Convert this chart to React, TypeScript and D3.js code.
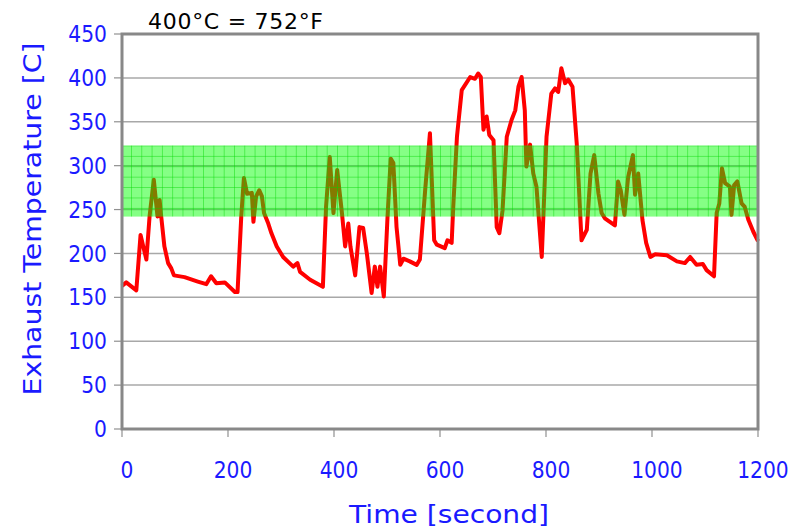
import * as d3 from 'd3';

const times = [
  0, 8, 27, 35, 46, 52, 60, 67, 71, 74, 80, 87, 93, 98, 118, 143, 159, 168, 178, 194, 213, 218, 225,
  230, 236, 245, 248, 253, 259, 264, 268, 276, 282, 292, 304, 323, 331, 336, 355, 379, 385, 392, 399,
  406, 415, 421, 427, 431, 440, 448, 455, 462, 471, 477, 482, 487, 494, 501, 507, 512, 518, 525, 531,
  543, 556, 562, 572, 581, 589, 594, 609, 614, 622, 625, 632, 641, 657, 666, 672, 677, 682, 688, 693,
  701, 707, 712, 718, 726, 735, 742, 748, 754, 760, 763, 770, 776, 782, 792, 801, 810, 817, 823, 829,
  836, 842, 850, 858, 867, 877, 884, 891, 899, 905, 911, 930, 936, 941, 948, 955, 964, 968, 974, 982,
  989, 997, 1006, 1028, 1047, 1062, 1072, 1084, 1096, 1103, 1117, 1122, 1127, 1132, 1138, 1147, 1150,
  1155, 1161, 1169, 1175, 1182, 1191, 1200,
];
const temps = [
  163, 167, 158, 221, 193, 242, 284, 242, 261, 242, 208, 189, 183, 175, 173, 168, 165, 174, 166, 167, 156, 156, 242,
  286, 268, 269, 236, 265, 272, 265, 246, 234, 223, 208, 196, 185, 189, 179, 170, 162, 253, 310, 246,
  295, 246, 208, 234, 208, 175, 230, 229, 200, 155, 185, 162, 185, 151, 242, 308, 303, 230, 187, 194,
  191, 187, 193, 272, 337, 215, 210, 206, 215, 212, 253, 333, 386, 401, 399, 405, 401, 341, 356, 335,
  329, 230, 223, 249, 333, 352, 363, 390, 401, 363, 299, 324, 291, 276, 196, 333, 382, 388, 384, 411,
  394, 398, 390, 325, 215, 227, 291, 312, 268, 246, 240, 232, 282, 272, 244, 287, 312, 267, 291, 238,
  212, 196, 199, 198, 191, 189, 196, 187, 188, 181, 174, 246, 257, 297, 280, 276, 244,
  278, 282, 257, 253, 238, 225, 214,
];
const xTicks = [0, 200, 400, 600, 800, 1000, 1200];
const yTicks = [0, 50, 100, 150, 200, 250, 300, 350, 400, 450];
const band = [242, 323];

const W = 794;
const H = 531;
const left = 122;
const right = 758;
const top = 34;
const bottom = 429;
const font = 'Tahoma, "DejaVu Sans", sans-serif';
const tickFont = 'Tahoma, "DejaVu Sans Condensed", sans-serif';

export default function App() {
  const x = d3.scaleLinear().domain([0, 1200]).range([left, right]);
  const y = d3.scaleLinear().domain([0, 450]).range([bottom, top]);
  const pts = times.map((t, i) => [t, temps[i]] as [number, number]);
  const line = d3.line<[number, number]>().x(d => x(d[0])).y(d => y(d[1]));

  return (
    <svg width={W} height={H} style={{ position: 'absolute', left: 0, top: 0, background: '#fff' }}>
      <defs>
        <pattern id="grid" patternUnits="userSpaceOnUse" x={left + 9} y={y(band[1])} width={10.3} height={10.4}>
          <rect width={10.3} height={10.4} fill="rgba(0,255,0,0.48)" />
          <line x1={0} x2={0} y1={0} y2={10.4} stroke="rgba(0,215,0,0.85)" strokeWidth={1} />
          <line x1={0} x2={10.3} y1={0} y2={0} stroke="rgba(0,215,0,0.85)" strokeWidth={1} />
        </pattern>
      </defs>

      {yTicks.map(v => (
        <g key={v}>
          <line x1={left} x2={right} y1={y(v)} y2={y(v)} stroke="#a8a8a8" strokeWidth={1.5} />
          <line x1={left - 8} x2={left} y1={y(v)} y2={y(v)} stroke="#909090" strokeWidth={1.2} />
          <text x={left - 15} y={y(v)} dy="0.36em" textAnchor="end" fill="#1a1aff"
            fontFamily={tickFont} fontSize={22.5}>{v}</text>
        </g>
      ))}

      {xTicks.map(v => (
        <g key={v}>
          <line x1={x(v)} x2={x(v)} y1={bottom} y2={bottom + 8} stroke="#909090" strokeWidth={1.2} />
          <text x={x(v) + 5} y={478} textAnchor="middle" fill="#1a1aff"
            fontFamily={tickFont} fontSize={22.5}>{v}</text>
        </g>
      ))}

      <path d={line(pts) ?? ''} fill="none" stroke="#ff0000" strokeWidth={4} strokeLinejoin="round" />

      <rect x={left} y={y(band[1])} width={right - left} height={y(band[0]) - y(band[1])} fill="url(#grid)" />

      <rect x={left} y={top} width={right - left} height={bottom - top} fill="none" stroke="#888" strokeWidth={3} />

      <text x={148} y={29} fill="#000" fontFamily={font} fontSize={22} textLength={175}>400°C = 752°F</text>

      <text x={449} y={523} textAnchor="middle" fill="#1a1aff" fontFamily={font} fontSize={25}
        textLength={200} lengthAdjust="spacingAndGlyphs">Time [second]</text>
      <text transform="translate(41, 219) rotate(-90)" textAnchor="middle" fill="#1a1aff"
        fontFamily={font} fontSize={25} textLength={353} lengthAdjust="spacingAndGlyphs">Exhaust Temperature [C]</text>
    </svg>
  );
}
